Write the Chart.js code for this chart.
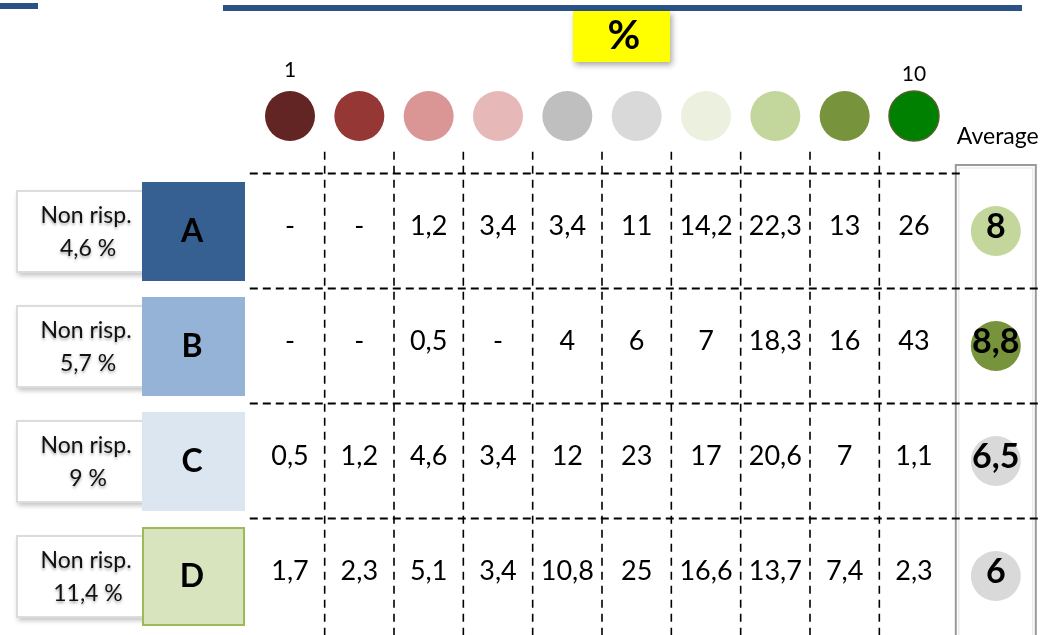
<!DOCTYPE html>
<html>
<head>
<meta charset="utf-8">
<script src="https://cdn.jsdelivr.net/npm/chart.js@4.4.0/dist/chart.umd.min.js"></script>
<style>
  html, body { margin: 0; padding: 0; background: #fff; }
  #wrap { width: 1041px; height: 635px; }
</style>
</head>
<body>
<div id="wrap"><canvas id="scoreChart" width="1041" height="635"></canvas></div>
<script>
// scale 1..10 and the four groups
const scaleSteps = [1, 2, 3, 4, 5, 6, 7, 8, 9, 10];
const endLabels = ['1', '10'];
const groups = ['A', 'B', 'C', 'D'];
const noAnswer = [4.6, 5.7, 9, 11.4];

// share of answers per score (null = "-")
const rowA = [null, null, 1.2, 3.4, 3.4, 11, 14.2, 22.3, 13, 26];
const rowB = [null, null, 0.5, null, 4, 6, 7, 18.3, 16, 43];
const rowC = [0.5, 1.2, 4.6, 3.4, 12, 23, 17, 20.6, 7, 1.1];
const rowD = [1.7, 2.3, 5.1, 3.4, 10.8, 25, 16.6, 13.7, 7.4, 2.3];
const rows = [rowA, rowB, rowC, rowD];

const averages = [8, 8.8, 6.5, 6];
const averageStep = [8, 9, 6, 6];

const scaleColors = ['#632523', '#953735', '#d99694', '#e6b9b8', '#bfbfbf',
                     '#d9d9d9', '#ebf1de', '#c3d69b', '#77933c', '#008000'];
const groupColors = ['#376092', '#95b3d7', '#dce6f1', '#d7e4bd'];
const AVG_COL = 11.18;
const FONT = 'Lato, "Open Sans", sans-serif';

const fmt = v => v === null ? '-' : String(v).replace('.', ',');

function dashLine(ctx, x1, y1, x2, y2, dash, w) {
  ctx.save();
  ctx.strokeStyle = '#000';
  ctx.lineWidth = w;
  ctx.setLineDash(dash);
  ctx.beginPath();
  ctx.moveTo(x1, y1);
  ctx.lineTo(x2, y2);
  ctx.stroke();
  ctx.restore();
}

const tablePlugin = {
  id: 'tablePlugin',
  beforeDatasetsDraw(chart) {
    const { ctx, scales: { x, y } } = chart;

    // header bars
    ctx.fillStyle = '#2a5286';
    ctx.fillRect(0, 3, 38, 6);
    ctx.fillRect(223, 5, 799, 6);

    // yellow "%" box
    ctx.save();
    ctx.shadowColor = 'rgba(0,0,0,0.35)';
    ctx.shadowBlur = 6;
    ctx.shadowOffsetX = 2;
    ctx.shadowOffsetY = 3;
    ctx.fillStyle = '#ffff00';
    ctx.fillRect(573, 11, 97, 51);
    ctx.restore();
    ctx.fillStyle = '#000';
    ctx.font = 'bold 40px ' + FONT;
    ctx.textAlign = 'center';
    ctx.textBaseline = 'middle';
    ctx.fillText('%', 624, 36);

    // average column frame
    const avgX = x.getPixelForValue(AVG_COL);
    ctx.save();
    ctx.strokeStyle = '#9a9a9a';
    ctx.lineWidth = 2;
    ctx.strokeRect(avgX - 40, 165, 80, 480);
    ctx.strokeStyle = '#e2e2e2';
    ctx.lineWidth = 1;
    ctx.strokeRect(avgX - 37, 168, 74, 480);
    ctx.restore();

    // dashed grid
    const left = x.getPixelForValue(0.42);
    const gridTop = y.getPixelForValue(0.31);
    for (let k = 1; k < 10; k++) {
      const px = x.getPixelForValue(k + 0.5);
      dashLine(ctx, px, gridTop, px, chart.height, [8, 6], 1.6);
    }
    dashLine(ctx, left, y.getPixelForValue(0.5), avgX - 32, y.getPixelForValue(0.5), [8, 5], 1.8);
    for (let r = 1; r < groups.length; r++) {
      const py = y.getPixelForValue(r + 0.5);
      dashLine(ctx, left, py, chart.width, py, [8, 5], 1.8);
    }

    // group labels on the left
    groups.forEach((g, i) => {
      const cy = y.getPixelForValue(i + 1);
      ctx.save();
      ctx.shadowColor = 'rgba(0,0,0,0.25)';
      ctx.shadowBlur = 5;
      ctx.shadowOffsetX = 2;
      ctx.shadowOffsetY = 3;
      ctx.fillStyle = '#fff';
      ctx.fillRect(16, cy - 41, 141, 83);
      ctx.restore();
      ctx.strokeStyle = '#dcdcdc';
      ctx.lineWidth = 2;
      ctx.strokeRect(17, cy - 40, 139, 81);

      ctx.save();
      ctx.shadowColor = 'rgba(0,0,0,0.35)';
      ctx.shadowBlur = 3;
      ctx.shadowOffsetY = 2;
      ctx.fillStyle = '#111';
      ctx.font = '23px ' + FONT;
      ctx.fillText('Non risp.', 86, cy - 15);
      ctx.fillText(fmt(noAnswer[i]) + ' %', 88, cy + 18);
      ctx.restore();

      ctx.fillStyle = groupColors[i];
      ctx.fillRect(142, cy - 49, 103, 99);
      if (i === 3) {
        ctx.strokeStyle = '#9bbb59';
        ctx.lineWidth = 2;
        ctx.strokeRect(143, cy - 48, 101, 97);
      }
      ctx.fillStyle = '#000';
      ctx.font = 'bold 32px ' + FONT;
      ctx.fillText(g, 192, cy + 1);
    });
  },
  afterDatasetsDraw(chart) {
    const { ctx, scales: { x, y } } = chart;
    ctx.save();
    ctx.textAlign = 'center';
    ctx.textBaseline = 'middle';
    ctx.fillStyle = '#000';

    // scale end labels
    ctx.font = '21px ' + FONT;
    ctx.fillText(endLabels[0], x.getPixelForValue(scaleSteps[0]), 70);
    ctx.fillText(endLabels[1], x.getPixelForValue(scaleSteps[9]), 74);
    ctx.textAlign = 'left';
    ctx.font = '23px ' + FONT;
    ctx.fillText('Average', x.getPixelForValue(AVG_COL) - 39, 137);
    ctx.textAlign = 'center';

    // cell values
    ctx.font = '27px ' + FONT;
    rows.forEach((row, r) => {
      const cy = y.getPixelForValue(r + 1) - 5;
      row.forEach((v, c) => {
        ctx.fillText(fmt(v), x.getPixelForValue(scaleSteps[c]), cy);
      });
    });

    // averages
    ctx.font = 'bold 34px ' + FONT;
    averages.forEach((v, i) => {
      ctx.fillText(fmt(v), x.getPixelForValue(AVG_COL), y.getPixelForValue(i + 1) - 4);
    });
    ctx.restore();
  }
};

new Chart(document.getElementById('scoreChart'), {
  type: 'scatter',
  data: {
    datasets: [{
      label: 'scale',
      data: scaleSteps.map(s => ({ x: s, y: 0 })),
      pointRadius: 25,
      pointHoverRadius: 25,
      backgroundColor: scaleColors,
      borderColor: scaleSteps.map(s => s === 10 ? '#4f6228' : 'rgba(0,0,0,0)'),
      borderWidth: scaleSteps.map(s => s === 10 ? 1.5 : 0)
    }, {
      label: 'average',
      data: averages.map((v, i) => ({ x: AVG_COL, y: i + 1 })),
      pointRadius: 25,
      pointHoverRadius: 25,
      backgroundColor: averageStep.map(s => scaleColors[s - 1]),
      borderWidth: 0
    }]
  },
  options: {
    responsive: false,
    animation: false,
    events: [],
    layout: { padding: 0, autoPadding: false },
    plugins: { legend: { display: false }, tooltip: { enabled: false } },
    scales: {
      x: { type: 'linear', display: false, min: -3.1827, max: 11.8317 },
      y: { type: 'linear', display: false, reverse: true, min: -1.0087, max: 4.513 }
    }
  },
  plugins: [tablePlugin]
});
</script>
</body>
</html>
